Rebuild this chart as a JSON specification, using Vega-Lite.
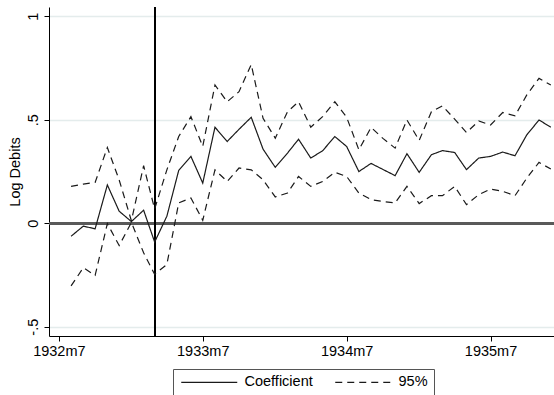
{
  "$schema": "https://vega.github.io/schema/vega-lite/v6.json",
  "width": 505,
  "height": 329,
  "autosize": "none",
  "padding": {"left": 49, "top": 7, "right": 0, "bottom": 59},
  "background": "white",
  "config": {
    "font": "Liberation Sans",
    "view": {"stroke": null},
    "axis": {"domainColor": "black", "tickColor": "black", "labelColor": "black", "titleColor": "black", "labelFontSize": 14.5, "titleFontSize": 14.5, "titleFontWeight": "normal", "tickSize": 5, "domainWidth": 1, "tickWidth": 1}
  },
  "data": {"values": [
    {"month": "1932-08-01", "coef": -0.063, "upper": 0.178, "lower": -0.303},
    {"month": "1932-09-01", "coef": -0.014, "upper": 0.189, "lower": -0.215},
    {"month": "1932-10-01", "coef": -0.027, "upper": 0.197, "lower": -0.252},
    {"month": "1932-11-01", "coef": 0.185, "upper": 0.366, "lower": -0.002},
    {"month": "1932-12-01", "coef": 0.058, "upper": 0.209, "lower": -0.108},
    {"month": "1933-01-01", "coef": 0.008, "upper": 0.012, "lower": 0.004},
    {"month": "1933-02-01", "coef": 0.063, "upper": 0.278, "lower": -0.143},
    {"month": "1933-03-01", "coef": -0.091, "upper": 0.069, "lower": -0.247},
    {"month": "1933-04-01", "coef": 0.034, "upper": 0.258, "lower": -0.199},
    {"month": "1933-05-01", "coef": 0.255, "upper": 0.419, "lower": 0.098},
    {"month": "1933-06-01", "coef": 0.323, "upper": 0.515, "lower": 0.122},
    {"month": "1933-07-01", "coef": 0.194, "upper": 0.371, "lower": 0.014},
    {"month": "1933-08-01", "coef": 0.464, "upper": 0.668, "lower": 0.258},
    {"month": "1933-09-01", "coef": 0.395, "upper": 0.587, "lower": 0.202},
    {"month": "1933-10-01", "coef": 0.454, "upper": 0.636, "lower": 0.267},
    {"month": "1933-11-01", "coef": 0.512, "upper": 0.767, "lower": 0.258},
    {"month": "1933-12-01", "coef": 0.358, "upper": 0.507, "lower": 0.210},
    {"month": "1934-01-01", "coef": 0.270, "upper": 0.411, "lower": 0.127},
    {"month": "1934-02-01", "coef": 0.339, "upper": 0.539, "lower": 0.146},
    {"month": "1934-03-01", "coef": 0.406, "upper": 0.587, "lower": 0.226},
    {"month": "1934-04-01", "coef": 0.315, "upper": 0.464, "lower": 0.178},
    {"month": "1934-05-01", "coef": 0.350, "upper": 0.515, "lower": 0.202},
    {"month": "1934-06-01", "coef": 0.419, "upper": 0.587, "lower": 0.246},
    {"month": "1934-07-01", "coef": 0.371, "upper": 0.512, "lower": 0.226},
    {"month": "1934-08-01", "coef": 0.250, "upper": 0.355, "lower": 0.146},
    {"month": "1934-09-01", "coef": 0.289, "upper": 0.463, "lower": 0.114},
    {"month": "1934-10-01", "coef": 0.260, "upper": 0.410, "lower": 0.105},
    {"month": "1934-11-01", "coef": 0.230, "upper": 0.363, "lower": 0.098},
    {"month": "1934-12-01", "coef": 0.336, "upper": 0.499, "lower": 0.178},
    {"month": "1935-01-01", "coef": 0.246, "upper": 0.400, "lower": 0.095},
    {"month": "1935-02-01", "coef": 0.331, "upper": 0.539, "lower": 0.133},
    {"month": "1935-03-01", "coef": 0.351, "upper": 0.567, "lower": 0.133},
    {"month": "1935-04-01", "coef": 0.342, "upper": 0.503, "lower": 0.178},
    {"month": "1935-05-01", "coef": 0.259, "upper": 0.438, "lower": 0.090},
    {"month": "1935-06-01", "coef": 0.315, "upper": 0.494, "lower": 0.138},
    {"month": "1935-07-01", "coef": 0.323, "upper": 0.475, "lower": 0.165},
    {"month": "1935-08-01", "coef": 0.344, "upper": 0.535, "lower": 0.154},
    {"month": "1935-09-01", "coef": 0.326, "upper": 0.519, "lower": 0.133},
    {"month": "1935-10-01", "coef": 0.427, "upper": 0.620, "lower": 0.218},
    {"month": "1935-11-01", "coef": 0.499, "upper": 0.700, "lower": 0.294},
    {"month": "1935-12-01", "coef": 0.464, "upper": 0.668, "lower": 0.262}
  ]},
  "encoding": {
    "x": {
      "field": "month", "type": "temporal",
      "scale": {"type": "utc", "domain": [{"year": 1932, "month": 6, "date": 6, "utc": true}, {"year": 1935, "month": 12, "date": 9, "utc": true}]},
      "axis": {
        "title": null, "grid": false, "labelPadding": 3, "labelFlush": false, "labelOverlap": false,
        "values": [{"year": 1932, "month": 7, "date": 1, "utc": true}, {"year": 1933, "month": 7, "date": 1, "utc": true}, {"year": 1934, "month": 7, "date": 1, "utc": true}, {"year": 1935, "month": 7, "date": 1, "utc": true}],
        "labelExpr": "utcFormat(datum.value, '%Y') + 'm' + (utcmonth(datum.value) + 1)"
      }
    }
  },
  "layer": [
    {
      "mark": {"type": "rule", "color": "#5a5a5a", "strokeWidth": 2},
      "encoding": {"x": null, "y": {"datum": 0, "type": "quantitative"}}
    },
    {
      "mark": {"type": "rule", "color": "black", "strokeWidth": 1},
      "encoding": {"x": {"datum": {"year": 1933, "month": 3, "date": 1, "utc": true}, "type": "temporal"}}
    },
    {
      "mark": {"type": "line", "color": "#1a1a1a", "strokeWidth": 1.2},
      "encoding": {
        "y": {
          "field": "coef", "type": "quantitative",
          "scale": {"domain": [-0.545, 1.045], "nice": false, "zero": false},
          "axis": {
            "title": "Log Debits", "values": [-0.5, 0, 0.5, 1], "labelAngle": 270, "labelAlign": "center", "labelBaseline": "bottom", "labelPadding": 4, "titlePadding": 3,
            "grid": true, "gridColor": "#E4ECEC", "gridWidth": 1.5,
            "labelExpr": "datum.value == 1 ? '1' : datum.value == 0.5 ? '.5' : datum.value == 0 ? '0' : '-.5'"
          }
        },
        "strokeDash": {
          "datum": "Coefficient",
          "scale": {"domain": ["Coefficient", "95%"], "range": [[1, 0], [7, 5]]},
          "legend": {
            "title": null, "orient": "none", "legendX": 124, "legendY": 362, "direction": "horizontal",
            "strokeColor": "#555555", "fillColor": "white", "padding": 6, "cornerRadius": 0,
            "symbolType": "M-5.6,0H5.6", "symbolSize": 100, "symbolOffset": 23, "symbolStrokeWidth": 1.2, "symbolStrokeColor": "#1a1a1a", "symbolFillColor": "transparent",
            "labelFontSize": 14.5, "labelColor": "black", "labelOffset": 28, "columnPadding": 19
          }
        }
      }
    },
    {
      "transform": [{"fold": ["upper", "lower"], "as": ["bound", "value"]}],
      "mark": {"type": "line", "color": "#1a1a1a", "strokeWidth": 1.2},
      "encoding": {
        "y": {"field": "value", "type": "quantitative"},
        "detail": {"field": "bound", "type": "nominal"},
        "strokeDash": {"datum": "95%"}
      }
    }
  ]
}
